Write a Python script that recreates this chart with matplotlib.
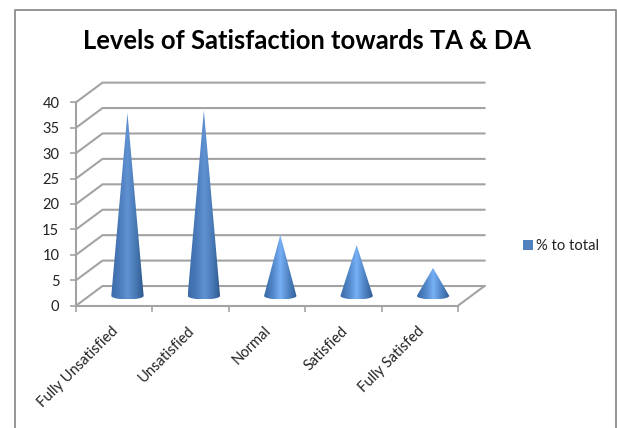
import numpy as np
import matplotlib
matplotlib.use("Agg")
import matplotlib.pyplot as plt
from matplotlib.colors import LinearSegmentedColormap
from matplotlib.patches import Patch, Polygon
from matplotlib.transforms import ScaledTranslation

categories = ["Fully Unsatisfied", "Unsatisfied", "Normal", "Satisfied", "Fully Satisfed"]
percent_to_total = [36, 36.5, 12, 10, 5.5]
y_ticks = [0, 5, 10, 15, 20, 25, 30, 35, 40]
series_name = "% to total"

plt.rcParams["font.family"] = ["Lato", "DejaVu Sans"]

W, H = 617, 428
fig = plt.figure(figsize=(W / 100, H / 100), dpi=100, facecolor="white")

# Outer chart frame, open along the lower edge
frame = fig.add_axes([0, 0, 1, 1])
frame.set_xlim(0, W)
frame.set_ylim(H, 0)
frame.axis("off")
frame.plot([15, 15, 615.5, 615.5], [H, 10, 10, H], color="#8c8c8c", lw=1.3)

ax = fig.add_axes([76 / W, (H - 305.7) / H, 382 / W, 203.4 / H])
ax.patch.set_alpha(0)
n = len(categories)
depth_x, depth_y = 0.347, 3.87
GRID = "#a3a3a3"

# Side and back walls with their gridlines
for v in y_ticks:
    ax.plot([0, depth_x, n + depth_x], [v, v + depth_y, v + depth_y],
            color=GRID, lw=1.5, clip_on=False, zorder=1)
ax.plot([n, n + depth_x], [0, depth_y], color=GRID, lw=1.5, clip_on=False, zorder=1)

cmap_tall = LinearSegmentedColormap.from_list(
    "tall", ["#3c6ba8", "#4a7aba", "#6091d2", "#4a7ab6", "#2c568a"])
cmap_short = LinearSegmentedColormap.from_list(
    "short", ["#3a6aa6", "#4f84c6", "#78b0f5", "#4f84c4", "#2f5c94"])

half_w, half_h = 0.212, 0.7
for i, value in enumerate(percent_to_total):
    cx = i + 0.5 + depth_x / 2
    cy = depth_y / 2
    t = np.linspace(np.pi, 2 * np.pi, 40)
    outline = [(cx, cy + value)] + [
        (cx + half_w * np.cos(a), cy + half_h * np.sin(a)) for a in t
    ]
    cone = Polygon(outline, closed=True, transform=ax.transData,
                   facecolor="none", edgecolor="none")
    ax.add_patch(cone)
    shade = np.linspace(0, 1, 128).reshape(1, -1)
    img = ax.imshow(shade, extent=[cx - half_w, cx + half_w, cy - half_h, cy + value],
                    aspect="auto", cmap=cmap_tall if value > 20 else cmap_short,
                    zorder=3, interpolation="bilinear")
    img.set_clip_path(cone)

ax.set_xlim(0, n)
ax.set_ylim(0, 40)
for side in ("top", "right"):
    ax.spines[side].set_visible(False)
for side in ("left", "bottom"):
    ax.spines[side].set_color(GRID)
    ax.spines[side].set_linewidth(1.5)
    ax.spines[side].set_zorder(2)

ax.set_yticks(y_ticks)
ax.tick_params(axis="y", length=4, width=1.2, color=GRID, labelsize=10.5,
               labelcolor="#222222", pad=8)
ax.set_xticks(np.arange(n + 1), minor=True)
ax.tick_params(axis="x", which="minor", length=4, width=1.2, color=GRID)
ax.set_xticks(np.arange(n) + 0.5)
ax.set_xticklabels(categories, rotation=45, ha="right", va="top",
                   rotation_mode="anchor", fontsize=10.5, color="#222222")
ax.tick_params(axis="x", which="major", length=0, pad=13)
shift = ScaledTranslation(-3 / 100, 0, fig.dpi_scale_trans)
for label in ax.get_xticklabels():
    label.set_transform(label.get_transform() + shift)

fig.text(307 / W, 1 - 41 / H, "Levels of Satisfaction towards TA & DA",
         ha="center", va="center", fontsize=18.4, fontweight="bold", color="black")

ax.legend(handles=[Patch(facecolor="#4f81bd", edgecolor="none", label=series_name)],
          loc="center left", bbox_to_anchor=(523 / W, 1 - 246 / H),
          bbox_transform=fig.transFigure, frameon=False, fontsize=10.6,
          handlelength=0.66, handleheight=0.66, handletextpad=0.2,
          borderpad=0, borderaxespad=0, labelcolor="#222222")

fig.savefig("out.png", dpi=100, facecolor="white")
